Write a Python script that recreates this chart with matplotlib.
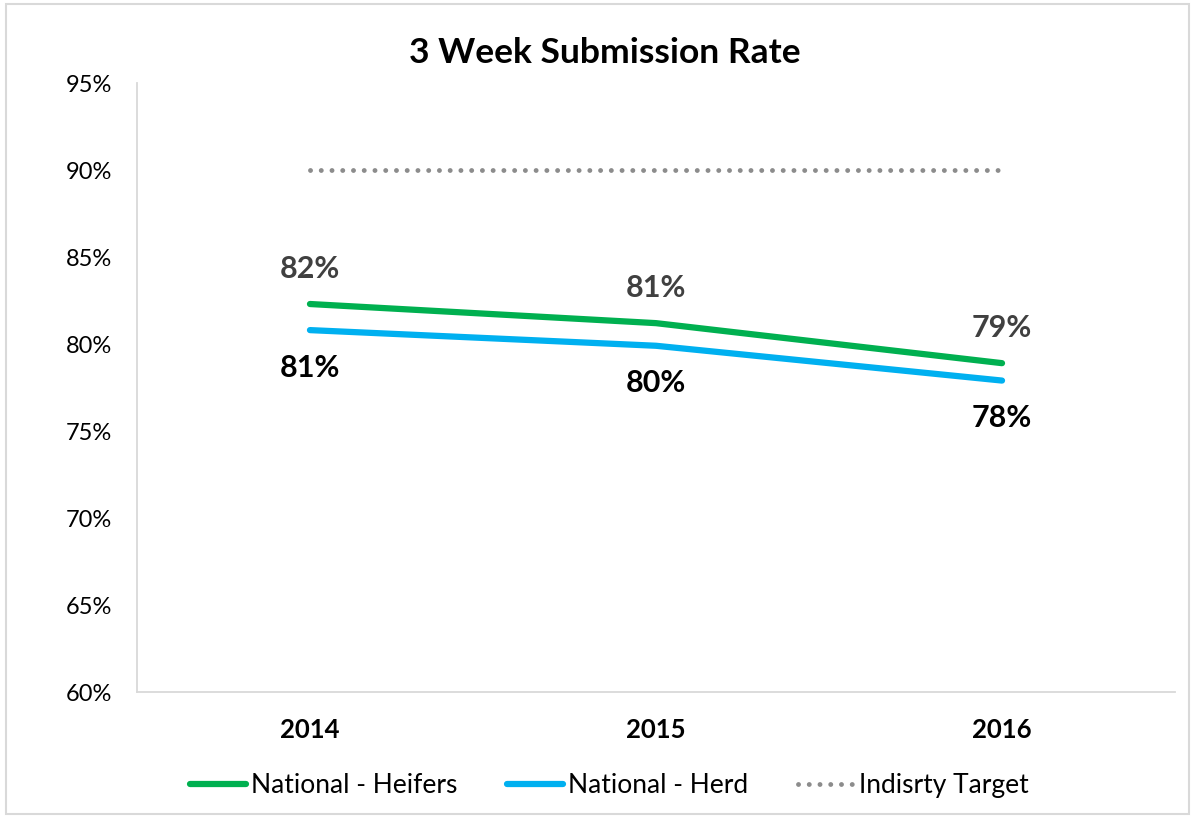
import matplotlib.pyplot as plt
from matplotlib.patches import Rectangle

years = ["2014", "2015", "2016"]
heifers = [82.3, 81.2, 78.9]
herd = [80.8, 79.9, 77.9]
target = [90, 90, 90]
heifer_labels = ["82%", "81%", "79%"]
herd_labels = ["81%", "80%", "78%"]
yticks = [60, 65, 70, 75, 80, 85, 90, 95]

plt.rcParams['font.family'] = ['Lato', 'DejaVu Sans']

fig = plt.figure(figsize=(11.95, 8.18), dpi=100)
ax = fig.add_axes([0.1146, 0.154, 0.8687, 0.7445])

x = range(len(years))
ax.plot(x, heifers, color="#00B050", lw=4.5, solid_capstyle="round", label="National - Heifers")
ax.plot(x, herd, color="#00B0F0", lw=4.5, solid_capstyle="round", label="National - Herd")
ax.plot(x, target, color="#8C8C8C", lw=3.5, linestyle=(0, (0.01, 2.2)),
        dash_capstyle="round", label="Indisrty Target")

for i in x:
    ax.annotate(heifer_labels[i], (i, heifers[i]), xytext=(0, 25), textcoords="offset points",
                ha="center", va="center", fontsize=22, fontweight="bold", color="#404040")
    ax.annotate(herd_labels[i], (i, herd[i]), xytext=(0, -27), textcoords="offset points",
                ha="center", va="center", fontsize=22, fontweight="bold", color="black")

ax.set_xlim(-0.5, 2.5)
ax.set_ylim(60, 95)
ax.set_yticks(yticks)
ax.set_yticklabels([f"{v}%" for v in yticks], fontsize=17)
ax.set_xticks(list(x))
ax.set_xticklabels(years, fontsize=18.5, fontweight="bold")
ax.tick_params(axis="both", length=0)
ax.tick_params(axis="x", pad=19)
ax.tick_params(axis="y", pad=18)

for s in ["top", "right"]:
    ax.spines[s].set_visible(False)
for s in ["left", "bottom"]:
    ax.spines[s].set_color("#D9D9D9")
    ax.spines[s].set_linewidth(1.3)

fig.suptitle("3 Week Submission Rate", x=0.506, y=0.955, fontsize=25.5, fontweight="bold")

fig.legend(loc="center", bbox_to_anchor=(0.51, 0.04), ncol=3, frameon=False,
           fontsize=19, handlelength=2.1, handletextpad=0.2, columnspacing=1.9)

fig.patches.append(Rectangle((0.005, 0.005), 0.99, 0.99, transform=fig.transFigure,
                             fill=False, edgecolor="#D9D9D9", lw=1.5))

fig.savefig("out.png", dpi=100)
